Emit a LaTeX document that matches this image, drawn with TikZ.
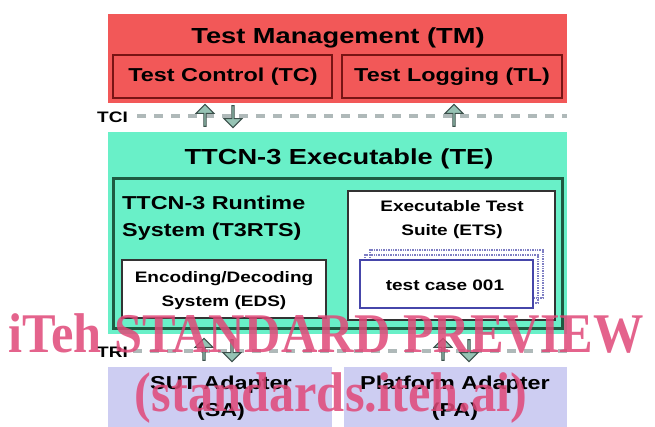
\documentclass[tikz,border=0pt]{standalone}
\usepackage{fontspec}
\setmainfont{Liberation Sans}
\newfontfamily\wf[FakeStretch=1.25]{Liberation Sans}
\newfontfamily\wmf[FakeStretch=0.9]{Liberation Serif}
\usetikzlibrary{shapes.arrows}
\definecolor{tmred}{RGB}{242,88,88}
\definecolor{tmdark}{RGB}{120,20,20}
\definecolor{teaqua}{RGB}{105,240,200}
\definecolor{tegreen}{RGB}{30,90,65}
\definecolor{adlav}{RGB}{205,205,242}
\definecolor{tcblue}{RGB}{70,70,170}
\definecolor{wmpink}{RGB}{224,72,120}
\definecolor{arrfill}{RGB}{150,195,180}
\definecolor{arrdraw}{RGB}{60,80,75}
\definecolor{ifgray}{RGB}{175,185,185}
\tikzset{
  area/.style={anchor=north west, inner sep=0, outer sep=0},
  tmbox/.style={area, fill=tmred},
  subred/.style={area, draw=tmdark, line width=2.5pt},
  tebox/.style={area, fill=teaqua},
  rtsbox/.style={area, draw=tegreen, line width=3pt},
  whitebox/.style={area, fill=white, draw=black!80, line width=2pt},
  tcbox/.style={area, fill=white, draw=tcblue, line width=1.5pt},
  tcshadow/.style={area, draw=tcblue!70, line width=1.4pt, densely dotted},
  adbox/.style={area, fill=adlav},
  ifline/.style={draw=ifgray, line width=3.5pt, dash pattern=on 9pt off 8pt},
  fatarrow/.style={single arrow, draw=arrdraw, fill=arrfill, line width=1pt,
    minimum height=22pt, minimum width=18pt, single arrow head extend=3.5pt,
    single arrow head indent=0pt, inner sep=0},
  uparrow/.style={fatarrow, shape border rotate=90},
  downarrow/.style={fatarrow, shape border rotate=270},
  bigtxt/.style={font=\wf\bfseries\fontsize{21.8}{24}\selectfont, inner sep=0},
  medtxt/.style={font=\wf\bfseries\fontsize{18.7}{27}\selectfont, inner sep=0},
  smalltxt/.style={font=\wf\bfseries\fontsize{15.2}{24}\selectfont, inner sep=0},
  wmtxt/.style={font=\wmf\bfseries\fontsize{56}{60}\selectfont, text=wmpink, text opacity=0.85, inner sep=0}
}
\begin{document}
\begin{tikzpicture}[x=1pt,y=-1pt]
\useasboundingbox (0,0) rectangle (655,426);
\fill[white] (0,0) rectangle (655,426);
% Test Management
\node[tmbox, minimum width=459pt, minimum height=89pt] (tm) at (108,14) {};
\node[subred, minimum width=219pt, minimum height=43pt] (tc) at (113,55) {};
\node[subred, minimum width=220pt, minimum height=43pt] (tl) at (342,55) {};
% TTCN-3 Executable
\node[tebox, minimum width=459pt, minimum height=202pt] (te) at (108,132) {};
\node[rtsbox, minimum width=449pt, minimum height=150pt] (rts) at (113,178) {};
\node[whitebox, minimum width=207pt, minimum height=129pt] (ets) at (348,191) {};
\node[tcshadow, minimum width=173pt, minimum height=48pt] (tc3) at (370,250) {};
\node[tcshadow, minimum width=173pt, minimum height=48pt] (tc2) at (365,255) {};
\node[tcbox, minimum width=173pt, minimum height=48pt] (tc1) at (360,260) {};
\node[whitebox, minimum width=204pt, minimum height=58pt] (eds) at (122,260) {};
% Adapters
\node[adbox, minimum width=224pt, minimum height=60pt] (sa) at (108,367) {};
\node[adbox, minimum width=223pt, minimum height=60pt] (pa) at (344,367) {};
% Interfaces
\coordinate (tcis) at (137,116);
\coordinate (tcie) at (567,116);
\coordinate (tris) at (133,351);
\coordinate (trie) at (567,351);
\draw[ifline] (tcis) -- (tcie);
\draw[ifline] (tris) -- (trie);
\node[uparrow] (tciup1) at (205,116) {};
\node[downarrow] (tcidown) at (233,116) {};
\node[uparrow] (tciup2) at (454,116) {};
\node[uparrow] (triup1) at (204,350) {};
\node[downarrow] (tridown1) at (232,350) {};
\node[uparrow] (triup2) at (443,350) {};
\node[downarrow] (tridown2) at (469,350) {};
% Texts
\node[bigtxt] (tmt) at (338,38) {Test Management (TM)};
\node[medtxt] (tct) at (223,77) {Test Control (TC)};
\node[medtxt] (tlt) at (452,77) {Test Logging (TL)};
\node[smalltxt, anchor=west] (tcil) at (97,117) {TCI};
\node[bigtxt] (tet) at (339,159) {TTCN-3 Executable (TE)};
\node[medtxt, anchor=west, align=left] (rtst) at (122,218) {TTCN-3 Runtime\\System (T3RTS)};
\node[smalltxt, align=center] (etst) at (452,220) {Executable Test\\Suite (ETS)};
\node[smalltxt] (tct1) at (445,285) {test case 001};
\node[smalltxt, align=center] (edst) at (224,291) {Encoding/Decoding\\System (EDS)};
\node[smalltxt, anchor=west] (tril) at (97,352) {TRI};
\node[medtxt, align=center] (sat) at (221,398) {SUT Adapter\\(SA)};
\node[medtxt, align=center] (pat) at (455,398) {Platform Adapter\\(PA)};
% Watermark
\node[wmtxt, anchor=base west] (wm1) at (8,352) {iTeh STANDARD PREVIEW};
\node[wmtxt, anchor=base] (wm2) at (331,411) {(standards.iteh.ai)};
\end{tikzpicture}
\end{document}
